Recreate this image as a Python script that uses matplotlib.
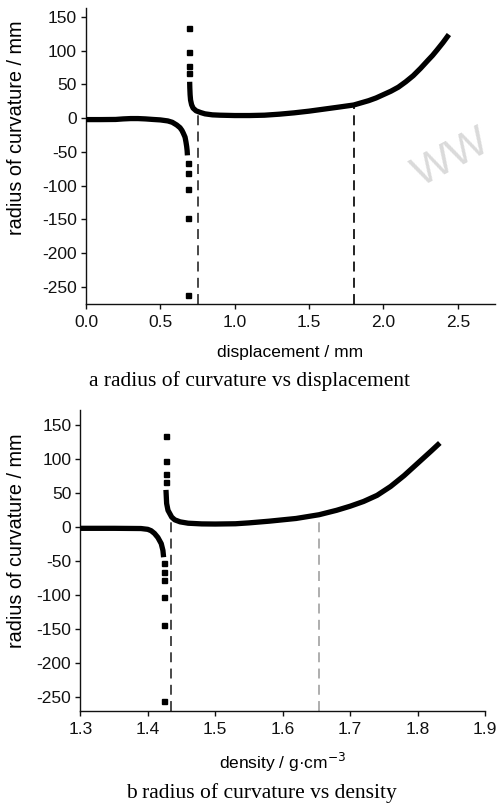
import matplotlib
matplotlib.use("Agg")
import matplotlib.pyplot as plt

plt.rcParams['font.family'] = ['Liberation Sans', 'DejaVu Sans']

# ---------------- Panel a : radius of curvature vs displacement ----------------
a_neg_x = [0.00, 0.10, 0.20, 0.25, 0.30, 0.35, 0.40, 0.45, 0.50, 0.55, 0.58,
           0.61, 0.632, 0.645, 0.654, 0.666, 0.672, 0.677, 0.680, 0.682]
a_neg_y = [-2.0, -2.0, -1.8, -1.0, -0.5, -0.5, -1.0, -1.8, -2.5, -4.0, -6.0,
           -10.0, -14.0, -18.0, -22.0, -28.0, -35.0, -42.0, -48.0, -55.0]
a_neg_pts_x = [0.685, 0.685, 0.685, 0.689, 0.689]
a_neg_pts_y = [-67, -81, -105, -148, -262]
a_pos_pts_x = [0.693, 0.695, 0.695, 0.695]
a_pos_pts_y = [134, 98, 77, 67]
a_pos_x = [0.697, 0.698, 0.700, 0.703, 0.710, 0.720, 0.740, 0.770, 0.800, 0.850,
           0.900, 1.000, 1.100, 1.200, 1.300, 1.400, 1.500, 1.600, 1.700, 1.800,
           1.900, 1.950, 2.000, 2.050, 2.100, 2.150, 2.200, 2.250, 2.300, 2.330,
           2.360, 2.400, 2.440]
a_pos_y = [54, 45, 35, 27, 20, 15, 11, 8.5, 6.5, 5.0,
           4.5, 4.0, 4.0, 4.5, 6.0, 8.0, 10.5, 13.5, 16.5, 19.6,
           26, 30, 35, 40, 46, 54, 63, 74, 86, 93,
           101, 112, 124]
a_dash_x = [0.753, 1.80]
a_dash_y = [9.0, 19.6]
a_dash_colors = ['#3a3a3a', '#111111']
a_xticks = [0.0, 0.5, 1.0, 1.5, 2.0, 2.5]
a_yticks = [150, 100, 50, 0, -50, -100, -150, -200, -250]

# ---------------- Panel b : radius of curvature vs density ----------------
b_neg_x = [1.300, 1.350, 1.390, 1.400, 1.405, 1.410, 1.415, 1.420, 1.4225, 1.4235]
b_neg_y = [-1.5, -1.5, -1.8, -3.0, -5.0, -9.0, -15.0, -24.0, -34.0, -44.0]
b_neg_pts_x = [1.424, 1.424, 1.424, 1.424, 1.424, 1.424]
b_neg_pts_y = [-53, -65, -77, -102, -144, -256]
b_pos_pts_x = [1.427, 1.427, 1.427, 1.427]
b_pos_pts_y = [134, 98, 78, 67]
b_pos_x = [1.427, 1.4275, 1.428, 1.430, 1.4355, 1.440, 1.448, 1.460, 1.480, 1.500,
           1.530, 1.550, 1.580, 1.600, 1.620, 1.654, 1.680, 1.700, 1.720, 1.740,
           1.760, 1.780, 1.800, 1.820, 1.833]
b_pos_y = [55, 45, 35, 25, 15, 11, 8.0, 6.0, 5.0, 4.8,
           5.2, 6.5, 9.0, 11.0, 13.0, 18.5, 25.0, 31.0, 38.0, 47.0,
           60.0, 76.0, 94.0, 112.0, 124.0]
b_dash_x = [1.4345, 1.654]
b_dash_y = [14.0, 18.0]
b_dash_colors = ['#3a3a3a', '#a8a8a8']
b_xticks = [1.3, 1.4, 1.5, 1.6, 1.7, 1.8, 1.9]
b_yticks = [150, 100, 50, 0, -50, -100, -150, -200, -250]

W, H = 499, 805
fig = plt.figure(figsize=(W / 100, H / 100), dpi=100)


def make_axes(rect, xlim, ylim, xticks, yticks, xfmt):
    ax = fig.add_axes(rect)
    ax.set_xlim(*xlim)
    ax.set_ylim(*ylim)
    for s in ('top', 'right'):
        ax.spines[s].set_visible(False)
    for s in ('left', 'bottom'):
        ax.spines[s].set_linewidth(1.0)
        ax.spines[s].set_color('#111111')
    ax.set_xticks(xticks)
    ax.set_xticklabels([xfmt.format(v) for v in xticks])
    ax.set_yticks(yticks)
    ax.set_yticklabels([str(v) for v in yticks])
    ax.tick_params(direction='out', length=3.5, width=1.0, labelsize=12.5,
                   colors='#111111', pad=3)
    ax.tick_params(axis='x', pad=4.5)
    return ax


def draw(ax, neg_x, neg_y, neg_px, neg_py, pos_px, pos_py, pos_x, pos_y,
         dash_x, dash_y, dash_colors, ybottom):
    for i in range(len(dash_x)):
        ax.vlines(dash_x[i], ybottom, dash_y[i], colors=dash_colors[i],
                  linestyles=(0, (5.5, 3.5)), linewidth=1.3, zorder=1)
    ax.plot(neg_x, neg_y, color='black', lw=3.8, solid_capstyle='butt',
            solid_joinstyle='round', zorder=3)
    ax.plot(pos_x, pos_y, color='black', lw=3.8, solid_capstyle='butt',
            solid_joinstyle='round', zorder=3)
    ax.plot(neg_px, neg_py, ls='none', marker='s', ms=3.6, color='black', zorder=3)
    ax.plot(pos_px, pos_py, ls='none', marker='s', ms=3.6, color='black', zorder=3)


# Panel a axes (pixel geometry)
a_left, a_right, a_top, a_bot = 86, 495, 8, 304
ax1 = make_axes([a_left / W, 1 - a_bot / H, (a_right - a_left) / W, (a_bot - a_top) / H],
                (0.0, 2.75), (-275.2, 163.3), a_xticks, a_yticks, '{:.1f}')
draw(ax1, a_neg_x, a_neg_y, a_neg_pts_x, a_neg_pts_y, a_pos_pts_x, a_pos_pts_y,
     a_pos_x, a_pos_y, a_dash_x, a_dash_y, a_dash_colors, -275.2)
ax1.set_xlabel('displacement / mm', fontsize=12.5, va='center')
ax1.xaxis.set_label_coords(0.5, (a_bot - 352) / (a_bot - a_top))
ax1.set_ylabel('radius of curvature / mm', fontsize=14.3, va='center')
ax1.yaxis.set_label_coords((17 - a_left) / (a_right - a_left), (a_bot - 128) / (a_bot - a_top))

# Panel b axes
b_left, b_right, b_top, b_bot = 80.3, 485, 410, 710.7
ax2 = make_axes([b_left / W, 1 - b_bot / H, (b_right - b_left) / W, (b_bot - b_top) / H],
                (1.3, 1.9), (-269.7, 172.5), b_xticks, b_yticks, '{:.1f}')
draw(ax2, b_neg_x, b_neg_y, b_neg_pts_x, b_neg_pts_y, b_pos_pts_x, b_pos_pts_y,
     b_pos_x, b_pos_y, b_dash_x, b_dash_y, b_dash_colors, -269.7)
ax2.set_xlabel('density / g\u00b7cm$^{-3}$', fontsize=12.5, va='center')
ax2.xaxis.set_label_coords(0.5, (b_bot - 762) / (b_bot - b_top))
ax2.set_ylabel('radius of curvature / mm', fontsize=14.3, va='center')
ax2.yaxis.set_label_coords((17 - b_left) / (b_right - b_left), (b_bot - 541) / (b_bot - b_top))

# Captions
fig.text(250 / W, 1 - 381 / H, 'a radius of curvature vs displacement',
         ha='center', va='center', fontsize=15.5, family=['Liberation Serif', 'DejaVu Serif'])
fig.text(261 / W, 1 - 793 / H, 'b radius of curvature vs density',
         ha='center', va='center', fontsize=15.5, family=['Liberation Serif', 'DejaVu Serif'])

# Watermark
fig.text(452 / W, 1 - 158 / H, 'WW', ha='center', va='center', fontsize=31,
         rotation=28, color='#dadada', family=['Liberation Sans', 'DejaVu Sans'],
         fontweight='light', zorder=0)

fig.savefig('out.png', dpi=100)
